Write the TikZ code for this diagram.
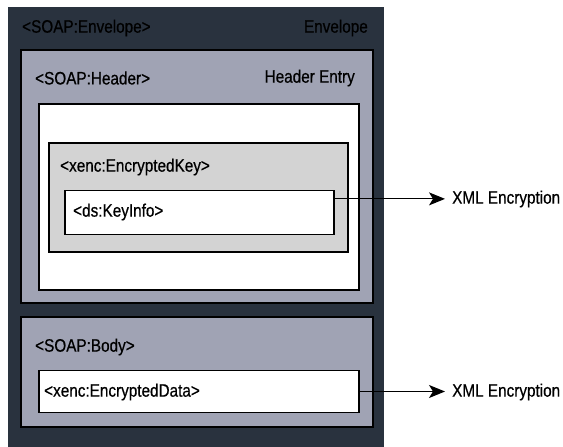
\documentclass[tikz,border=0pt]{standalone}
\usepackage{fontspec}
\setmainfont[FakeStretch=0.85,FakeBold=0.6]{Liberation Sans}
\usetikzlibrary{arrows.meta,calc}
\definecolor{envcol}{HTML}{29323E}
\definecolor{secfill}{HTML}{A0A3B4}
\definecolor{keyfill}{HTML}{D3D3D3}
\begin{document}
\begin{tikzpicture}[x=1pt,y=-1pt,
  lbl/.style={inner sep=0pt,font=\fontsize{18}{21}\selectfont,text=black},
  boxrect/.style={draw=black,line width=1.4pt},
  conn/.style={draw=black,line width=1.1pt,-{Stealth[length=16pt,width=13pt,inset=4pt]}}]
\useasboundingbox (0,0) rectangle (563,447);
\fill[white] (0,0) rectangle (563,447);
% envelope
\fill[envcol] (8,7) rectangle (384,447);
\node[lbl,anchor=west] (envtag) at (22,28) {<SOAP:Envelope>};
\node[lbl,anchor=east] (envname) at (368,28) {Envelope};
% header
\draw[boxrect,fill=secfill] (21,50) rectangle (373,303);
\node[lbl,anchor=west] (hdrtag) at (35,78) {<SOAP:Header>};
\node[lbl,anchor=east] (hdrname) at (355,78) {Header Entry};
\draw[boxrect,fill=white] (39,104) rectangle (359,290);
% encrypted key
\draw[boxrect,fill=keyfill] (49,143) rectangle (348,252);
\node[lbl,anchor=west] (enckey) at (60,167) {<xenc:EncryptedKey>};
\node[boxrect,fill=white,minimum width=269pt,minimum height=44pt,inner sep=0pt] (keyinfo) at (199.5,212.5) {};
\node[lbl,anchor=west] (keyinfotxt) at (73,212) {<ds:KeyInfo>};
% body
\draw[boxrect,fill=secfill] (21,317) rectangle (373,427);
\node[lbl,anchor=west] (bodytag) at (35,347) {<SOAP:Body>};
\node[boxrect,fill=white,minimum width=320pt,minimum height=42pt,inner sep=0pt] (encdata) at (199,391.5) {};
\node[lbl,anchor=west] (encdatatxt) at (44,392) {<xenc:EncryptedData>};
% targets
\node[lbl,anchor=west] (xml1) at (452,199) {XML Encryption};
\node[lbl,anchor=west] (xml2) at (452,392) {XML Encryption};
\coordinate (k1) at ($(keyinfo.north east)!0.2!(keyinfo.south east)$);
\draw[conn] (k1) -- ($(k1 -| xml1.west)+(-7,0)$);
\draw[conn] (encdata.east) -- ($(encdata.east -| xml2.west)+(-7,0)$);
\end{tikzpicture}
\end{document}
